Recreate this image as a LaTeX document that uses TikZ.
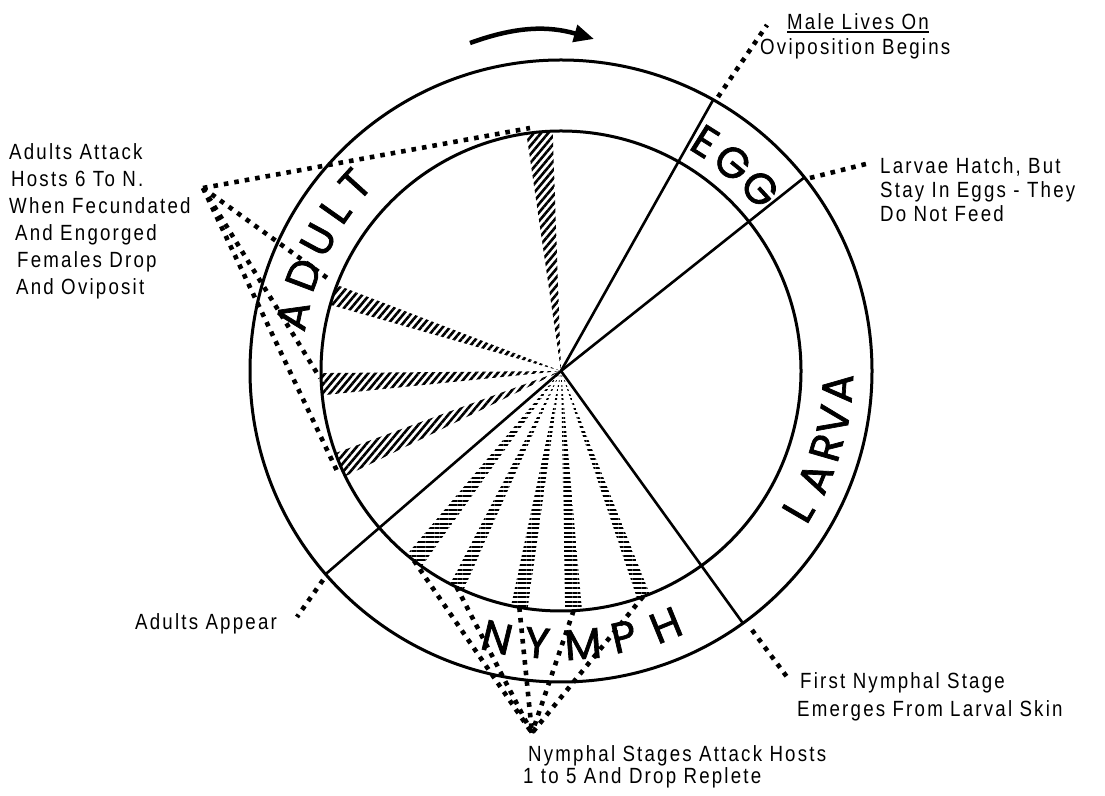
\documentclass[tikz,border=0pt]{standalone}
\usepackage{fontspec}
\usetikzlibrary{patterns.meta,arrows.meta}
\newfontfamily\labf[FakeStretch=0.85,LetterSpace=10]{Liberation Sans}
\newfontfamily\bigf[FakeBold=1.6]{Poppins}
\begin{document}
\begin{tikzpicture}[x=1pt,y=1pt,
  ring/.style={line width=3pt},
  spoke/.style={line width=2.6pt},
  dotline/.style={line width=4.6pt, dash pattern=on 4.6pt off 6pt},
  adulthatch/.style={pattern={Lines[angle=50,distance=5.5pt,line width=2.6pt]}},
  nymphhatch/.style={pattern={Lines[angle=0,distance=4.6pt,line width=2pt]}},
  lab/.style={font=\labf\fontsize{22}{#1}\selectfont, inner sep=0pt, align=left, anchor=north west},
  lab/.default=26,
  big/.style={font=\bigf\fontsize{43}{43}\selectfont, inner sep=0pt, anchor=center}
]
\useasboundingbox (0,0) rectangle (1105,795);
\fill[white] (0,0) rectangle (1105,795);
\coordinate (C) at (561,424);

\begin{scope}[shift={(C)}]
  % hatched wedges (adult)
  \fill[adulthatch] (0,0) -- (92:240) arc[start angle=92,end angle=98.3,radius=240] -- cycle;
  \fill[adulthatch] (0,0) -- (159:240) arc[start angle=159,end angle=164,radius=240] -- cycle;
  \fill[adulthatch] (0,0) -- (180.5:240) arc[start angle=180.5,end angle=185.8,radius=240] -- cycle;
  \fill[adulthatch] (0,0) -- (200:240) arc[start angle=200,end angle=206,radius=240] -- cycle;
  % hatched wedges (nymph)
  \fill[nymphhatch] (0,0) -- (230:240) arc[start angle=230,end angle=234.5,radius=240] -- cycle;
  \fill[nymphhatch] (0,0) -- (242.5:240) arc[start angle=242.5,end angle=246,radius=240] -- cycle;
  \fill[nymphhatch] (0,0) -- (258:240) arc[start angle=258,end angle=262,radius=240] -- cycle;
  \fill[nymphhatch] (0,0) -- (271:240) arc[start angle=271,end angle=275,radius=240] -- cycle;
  \fill[nymphhatch] (0,0) -- (288.5:240) arc[start angle=288.5,end angle=291.7,radius=240] -- cycle;
  % named points
  \coordinate (hub) at (0,0);
  \coordinate (s1) at (60.7:311);
  \coordinate (s2) at (38.5:311);
  \coordinate (s3) at (-54.2:311);
  \coordinate (s4) at (220.8:311);
  \coordinate (n1) at (232.2:240);
  \coordinate (n2) at (244.2:240);
  \coordinate (n3) at (260:240);
  \coordinate (n4) at (273:240);
  \coordinate (n5) at (290:240);
  % circles
  \draw[ring] (hub) circle[radius=311];
  \draw[ring] (hub) circle[radius=240];
  % stage labels
  \node[big,rotate=-32.1] (egg1) at (57.9:271) {E};
  \node[big,rotate=-39.5] (egg2) at (50.5:270) {G};
  \node[big,rotate=-47.5] (egg3) at (42.5:270) {G};
  \node[big,rotate=78] (ad1) at (168.3:274) {A};
  \node[big,rotate=69.3] (ad2) at (159.5:275) {D};
  \node[big,rotate=61.6] (ad3) at (151.6:276) {U};
  \node[big,rotate=54.8] (ad4) at (144.6:277) {L};
  \node[big,rotate=47.8] (ad5) at (137.8:278) {T};
  \node[big,rotate=59.8] (lv1) at (-30.4:275) {L};
  \node[big,rotate=67.4] (lv2) at (-22.8:276) {A};
  \node[big,rotate=73.9] (lv3) at (-16.1:276) {R};
  \node[big,rotate=79.6] (lv4) at (-10.2:277) {V};
  \node[big,rotate=86.1] (lv5) at (-3.6:277) {A};
  \node[big,rotate=-13.5] (ny1) at (256.5:274) {N};
  \node[big,rotate=-5] (ny2) at (265:273) {Y};
  \node[big,rotate=4.6] (ny3) at (274.6:274) {M};
  \node[big,rotate=13.1] (ny4) at (283.3:273) {P};
  \node[big,rotate=22.2] (ny5) at (292.4:275) {H};
\end{scope}

% spokes
\draw[spoke] (hub) -- (s1);
\draw[spoke] (hub) -- (s2);
\draw[spoke] (hub) -- (s3);
\draw[spoke] (hub) -- (s4);

% text labels
\node[lab=25] (male) at (787,782) {Male Lives On};
\draw[line width=1.6pt] ([yshift=-3pt]male.base west) -- ([yshift=-3pt]male.base east);
\node[lab=25] (ovi) at (760,757) {Oviposition Begins};
\node[lab=24] (larv) at (880,638) {Larvae Hatch, But\\Stay In Eggs - They\\Do Not Feed};
\node[lab=27] (adatt) at (9,652) {Adults Attack\\\hspace*{2pt}Hosts 6 To N.\\When Fecundated\\\hspace*{6pt}And Engorged\\\hspace*{8pt}Females Drop\\\hspace*{7pt}And Oviposit};
\node[lab] (adapp) at (135,182) {Adults Appear};
\node[lab=28] (first) at (797,123) {\hspace*{3pt}First Nymphal Stage\\Emerges From Larval Skin};
\node[lab=22] (nyst) at (523,50) {\hspace*{5pt}Nymphal Stages Attack Hosts\\1 to 5 And Drop Replete};

% leader points
\coordinate (mS) at (718,698);
\coordinate (mE) at (767,770);
\coordinate (lS) at (810,617);
\coordinate (lE) at (870,632);
\coordinate (fS) at (752,165);
\coordinate (fE) at (787,118);
\coordinate (aS) at (323,215);
\coordinate (aE) at (297,178);
\coordinate (A) at (203,607);
\coordinate (w1) at (530,667);
\coordinate (w2) at (330,515);
\coordinate (w3) at (320,417);
\coordinate (w4) at (338,322);
\coordinate (B) at (532,62);

% dotted leaders
\draw[dotline] (mS) -- (mE);
\draw[dotline] (lS) -- (lE);
\draw[dotline] (fS) -- (fE);
\draw[dotline] (aS) -- (aE);
\draw[dotline] (A) -- (w1);
\draw[dotline] (A) -- (w2);
\draw[dotline] (A) -- (w3);
\draw[dotline] (A) -- (w4);
\draw[dotline] (n1) -- (B);
\draw[dotline] (n2) -- (B);
\draw[dotline] (n3) -- (B);
\draw[dotline] (n4) -- (B);
\draw[dotline] (n5) -- (B);

% direction arrow
\coordinate (arS) at (470,752);
\coordinate (arE) at (594,756);
\draw[line width=4.5pt, -{Triangle[length=20pt,width=17pt]}] (arS) to[bend left=18] (arE);
\end{tikzpicture}
\end{document}
